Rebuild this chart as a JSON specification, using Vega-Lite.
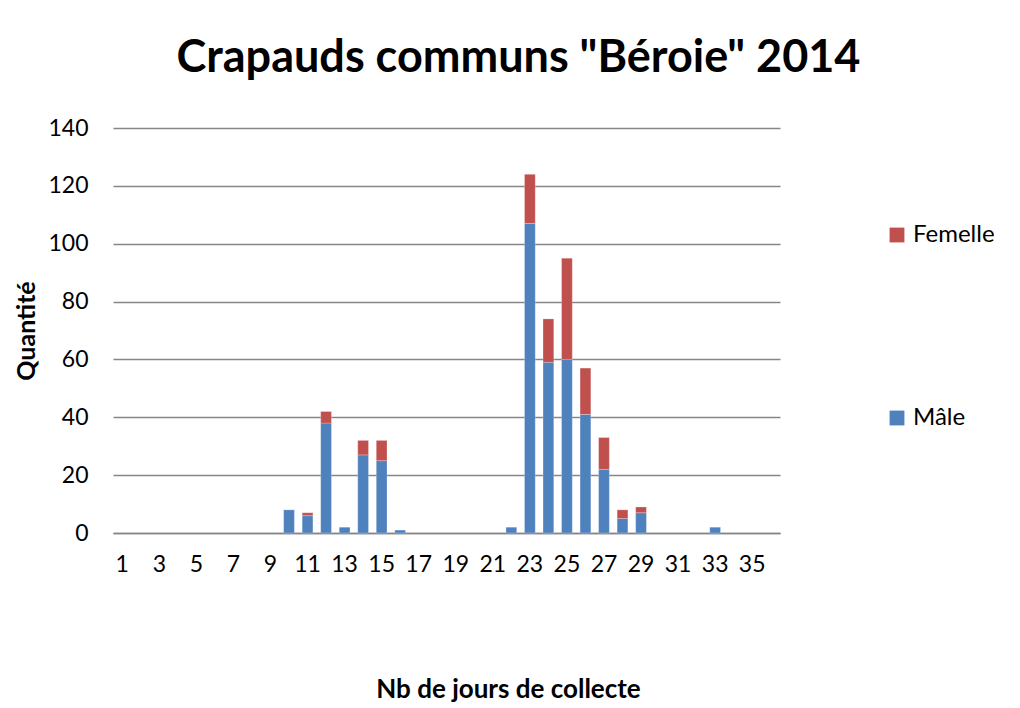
{
  "$schema": "https://vega.github.io/schema/vega-lite/v6.json",
  "width": 667,
  "height": 405,
  "padding": {"left": 14, "top": 36, "right": 5, "bottom": 5},
  "background": "white",
  "title": {
    "text": "Crapauds communs \"Béroie\" 2014",
    "font": "Lato",
    "fontSize": 45,
    "fontWeight": "bold",
    "color": "#000000",
    "anchor": "middle",
    "dx": 72,
    "offset": 36
  },
  "data": {
    "values": [
      {"jour": 10, "sexe": "Mâle", "n": 8},
      {"jour": 11, "sexe": "Mâle", "n": 6},
      {"jour": 11, "sexe": "Femelle", "n": 1},
      {"jour": 12, "sexe": "Mâle", "n": 38},
      {"jour": 12, "sexe": "Femelle", "n": 4},
      {"jour": 13, "sexe": "Mâle", "n": 2},
      {"jour": 14, "sexe": "Mâle", "n": 27},
      {"jour": 14, "sexe": "Femelle", "n": 5},
      {"jour": 15, "sexe": "Mâle", "n": 25},
      {"jour": 15, "sexe": "Femelle", "n": 7},
      {"jour": 16, "sexe": "Mâle", "n": 1},
      {"jour": 22, "sexe": "Mâle", "n": 2},
      {"jour": 23, "sexe": "Mâle", "n": 107},
      {"jour": 23, "sexe": "Femelle", "n": 17},
      {"jour": 24, "sexe": "Mâle", "n": 59},
      {"jour": 24, "sexe": "Femelle", "n": 15},
      {"jour": 25, "sexe": "Mâle", "n": 60},
      {"jour": 25, "sexe": "Femelle", "n": 35},
      {"jour": 26, "sexe": "Mâle", "n": 41},
      {"jour": 26, "sexe": "Femelle", "n": 16},
      {"jour": 27, "sexe": "Mâle", "n": 22},
      {"jour": 27, "sexe": "Femelle", "n": 11},
      {"jour": 28, "sexe": "Mâle", "n": 5},
      {"jour": 28, "sexe": "Femelle", "n": 3},
      {"jour": 29, "sexe": "Mâle", "n": 7},
      {"jour": 29, "sexe": "Femelle", "n": 2},
      {"jour": 33, "sexe": "Mâle", "n": 2}
    ]
  },
  "mark": {"type": "bar", "stroke": "white", "strokeOpacity": 0.4, "strokeWidth": 0.6},
  "encoding": {
    "x": {
      "field": "jour",
      "type": "ordinal",
      "scale": {
        "domain": [1,2,3,4,5,6,7,8,9,10,11,12,13,14,15,16,17,18,19,20,21,22,23,24,25,26,27,28,29,30,31,32,33,34,35,36],
        "paddingInner": 0.42,
        "paddingOuter": 0.21
      },
      "axis": {
        "values": [1,3,5,7,9,11,13,15,17,19,21,23,25,27,29,31,33,35],
        "labelAngle": 0,
        "ticks": false,
        "labelPadding": 20,
        "labelFont": "Lato",
        "labelFontSize": 23,
        "labelColor": "#000000",
        "domainColor": "#868686",
        "domainWidth": 1.5,
        "title": "Nb de jours de collecte",
        "titleFont": "Lato",
        "titleFontSize": 26,
        "titleFontWeight": "bold",
        "titleColor": "#000000",
        "titlePadding": 100,
        "titleX": 395
      }
    },
    "y": {
      "field": "n",
      "type": "quantitative",
      "aggregate": "sum",
      "stack": "zero",
      "scale": {"domain": [0, 140]},
      "axis": {
        "values": [0, 20, 40, 60, 80, 100, 120, 140],
        "ticks": false,
        "domain": false,
        "labelPadding": 25,
        "labelFont": "Lato",
        "labelFontSize": 23,
        "labelColor": "#000000",
        "gridColor": "#868686",
        "gridWidth": 1.5,
        "title": "Quantité",
        "titleFont": "Lato",
        "titleFontSize": 25,
        "titleFontWeight": "bold",
        "titleColor": "#000000",
        "titlePadding": 8
      }
    },
    "color": {
      "field": "sexe",
      "type": "nominal",
      "scale": {"domain": ["Femelle", "Mâle"], "range": ["#C0504D", "#4F81BD"]},
      "legend": {
        "title": null,
        "orient": "none",
        "legendX": 772,
        "legendY": 95,
        "symbolType": "square",
        "symbolSize": 220,
        "symbolStrokeWidth": 0,
        "labelFont": "Lato",
        "labelFontSize": 24,
        "labelColor": "#000000",
        "rowPadding": 159
      }
    },
    "order": {"field": "sexe", "sort": "descending"}
  },
  "config": {"view": {"stroke": null}}
}
